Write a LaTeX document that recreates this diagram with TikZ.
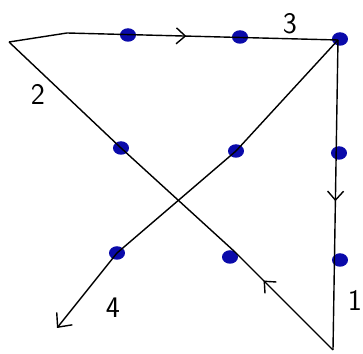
\documentclass[tikz,border=0pt]{standalone}
\usepackage{tikz}
\usetikzlibrary{arrows.meta, calc, decorations.markings, shapes.geometric}
\definecolor{dotblue}{RGB}{10,10,170}
\tikzset{
    edge/.style={thick, black},
    midarrow/.style={postaction={decorate, decoration={markings,
        mark=at position #1 with {\arrow{Straight Barb[length=1.8mm,width=3.2mm]}}}}},
    dot/.style={ellipse, fill=dotblue, inner sep=0pt, minimum width=0.32cm, minimum height=0.27cm},
    num/.style={font=\sffamily\fontsize{17}{19}\selectfont}
}

\begin{document}
\begin{tikzpicture}[x=0.02cm, y=-0.02cm]
    \useasboundingbox (0,0) rectangle (363,354);
    % corners
    \coordinate (a) at (9,42);
    \coordinate (kink) at (67,33);
    \coordinate (b) at (338,40);
    \coordinate (c) at (333,350);
    \coordinate (d) at (57,328);

    % dots
    \node[dot] (top1) at (128,35) {};
    \node[dot] (top2) at (240,37) {};
    \node[dot] (bdot) at (340,39) {};
    \node[dot] (r1) at (339,153) {};
    \node[dot] (r2) at (340,260) {};
    \node[dot] (m1) at (121,148) {};
    \node[dot] (m2) at (230,257) {};
    \node[dot] (f1) at (236,151) {};
    \node[dot] (f2) at (117,253) {};

    \draw[edge, midarrow=0.54] (a) -- (kink) -- (b);
    \draw[edge, midarrow=0.52] (b) -- (c);
    \draw[edge, midarrow=0.22] (c) -- ($(m2)+(5,-5)$) -- (m1.center) -- (a);
    \draw[edge, -{Straight Barb[length=2.2mm,width=4mm]}]
        (b) -- (f1.center) -- (f2.center) -- (d);

    % labels
    \node[num] (lone) at (355,300) {1};
    \node[num] (ltwo) at (38,94) {2};
    \node[num] (lthree) at (290,24) {3};
    \node[num] (lfour) at (113,308) {4};
\end{tikzpicture}
\end{document}
